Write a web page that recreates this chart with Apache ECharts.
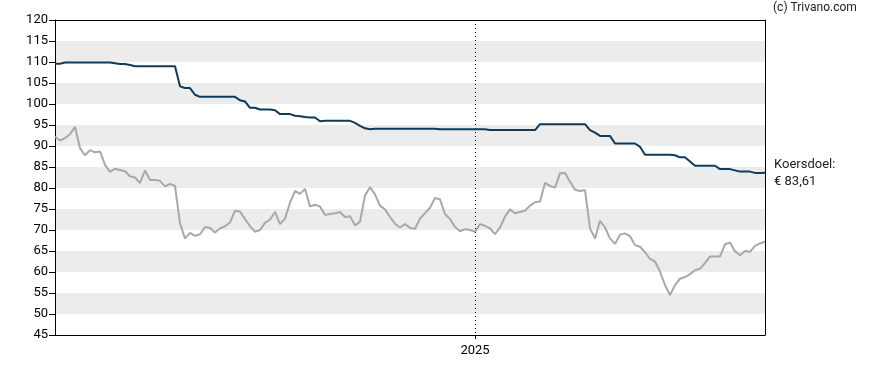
<!DOCTYPE html>
<html>
<head>
<meta charset="utf-8">
<script src="https://cdn.jsdelivr.net/npm/echarts@6/dist/echarts.min.js"></script>
<style>
html,body{margin:0;padding:0;background:#fff;}
#chart{width:888px;height:370px;}
</style>
</head>
<body>
<div id="chart"></div>
<script>
// ---- data ----
const startDate = '2023-11-08';
const stepDays = 5;
const koersdoel = [
109.6,109.6,109.9,109.9,109.9,109.9,109.9,109.9,109.9,109.9,
109.9,109.9,109.7,109.5,109.5,109.3,109.0,109.0,109.0,109.0,
109.0,109.0,109.0,109.0,109.0,104.2,103.8,103.8,102.2,101.7,
101.7,101.7,101.7,101.7,101.7,101.7,101.7,100.9,100.6,99.1,
99.1,98.7,98.7,98.7,98.5,97.6,97.6,97.6,97.2,97.1,
96.9,96.8,96.8,95.9,96.0,96.0,96.0,96.0,96.0,96.0,
95.5,94.8,94.2,94.0,94.1,94.1,94.1,94.1,94.1,94.1,
94.1,94.1,94.1,94.1,94.1,94.1,94.1,94.0,94.0,94.0,
94.0,94.0,94.0,94.0,94.0,94.0,94.0,93.8,93.8,93.8,
93.8,93.8,93.8,93.8,93.8,93.8,93.8,95.2,95.2,95.2,
95.2,95.2,95.2,95.2,95.2,95.2,95.2,93.8,93.2,92.4,
92.4,92.4,90.6,90.6,90.6,90.6,90.6,89.8,87.9,87.9,
87.9,87.9,87.9,87.9,87.8,87.3,87.3,86.3,85.3,85.3,
85.3,85.3,85.3,84.5,84.5,84.5,84.2,83.9,83.9,83.9,
83.6,83.6,83.61
];
const koers = [
92.2,91.3,91.9,92.8,94.6,89.5,87.8,89.0,88.5,88.7,
85.5,83.8,84.6,84.3,84.0,82.8,82.5,81.2,84.2,81.9,
81.9,81.7,80.4,81.0,80.5,71.6,68.0,69.3,68.6,69.0,
70.7,70.5,69.4,70.4,70.9,71.8,74.6,74.4,72.6,70.9,
69.6,70.0,71.7,72.5,74.3,71.4,72.7,76.5,79.3,78.6,
79.8,75.6,76.0,75.6,73.6,73.8,74.0,74.3,73.1,73.3,
71.1,72.0,78.2,80.2,78.5,75.8,74.9,73.1,71.5,70.6,
71.4,70.5,70.3,72.7,74.0,75.3,77.6,77.3,73.8,72.6,
70.7,69.7,70.2,70.0,69.6,71.4,71.0,70.4,69.0,70.6,
73.2,74.9,74.0,74.3,74.6,75.8,76.6,76.8,81.2,80.5,
80.1,83.5,83.6,81.5,79.6,79.3,79.5,70.4,68.0,72.2,
70.6,68.0,66.7,68.9,69.2,68.5,66.4,66.0,64.7,63.1,
62.5,60.1,56.9,54.5,56.9,58.4,58.8,59.5,60.4,60.8,
62.1,63.7,63.7,63.7,66.6,67.0,64.9,64.0,65.0,64.8,
66.2,66.8,67.2
];
const yMin = 45, yMax = 120, yStep = 5;
const yearLabel = '2025';
const targetText = ['Koersdoel:', '€ 83,61'];
const creditText = '(c) Trivano.com';

// ---- categories (dates) ----
const categories = [];
{
  const t0 = Date.parse(startDate + 'T00:00:00Z');
  for (let i = 0; i < koers.length; i++) {
    categories.push(new Date(t0 + i * stepDays * 86400000).toISOString().slice(0, 10));
  }
}
const yearIdx = categories.findIndex(d => d.startsWith(yearLabel));

const FONT = 'Roboto, Arial, sans-serif';
const chart = echarts.init(document.getElementById('chart'), null, {renderer: 'canvas'});
chart.setOption({
  animation: false,
  backgroundColor: '#fff',
  grid: {left: 55, right: 123, top: 20, bottom: 35},
  xAxis: [{
    type: 'category',
    data: categories,
    boundaryGap: false,
    axisLine: {show: true, lineStyle: {color: '#000', width: 1}},
    axisTick: {show: true, length: 4, lineStyle: {color: '#000'}, interval: (i) => i === yearIdx},
    axisLabel: {
      show: true, color: '#000', fontSize: 13, fontFamily: FONT, margin: 9,
      interval: (i) => i === yearIdx,
      formatter: () => yearLabel
    },
    splitLine: {show: true, interval: (i) => i === yearIdx, lineStyle: {color: '#000', type: [1, 3], width: 1}}
  }, {
    type: 'category',
    data: categories,
    boundaryGap: false,
    position: 'top',
    axisLine: {show: true, lineStyle: {color: '#000', width: 1}},
    axisTick: {show: false},
    axisLabel: {show: false},
    splitLine: {show: false}
  }],
  yAxis: [{
    type: 'value',
    min: yMin, max: yMax, interval: yStep,
    axisLine: {show: true, lineStyle: {color: '#000', width: 1}},
    axisTick: {show: true, length: 6, lineStyle: {color: '#000'}},
    axisLabel: {color: '#000', fontSize: 13, fontFamily: FONT, margin: 7},
    splitLine: {show: false},
    splitArea: {show: true, areaStyle: {color: ['#ffffff', '#ececec']}}
  }, {
    type: 'value',
    min: yMin, max: yMax, interval: yStep,
    position: 'right',
    axisLine: {show: true, lineStyle: {color: '#000', width: 1}},
    axisTick: {show: false},
    axisLabel: {show: false},
    splitLine: {show: false}
  }],
  series: [{
    type: 'line',
    data: koers,
    symbol: 'none',
    lineStyle: {color: '#a8a8a8', width: 2},
    z: 3
  }, {
    type: 'line',
    data: koersdoel,
    symbol: 'none',
    lineStyle: {color: '#0e3a5c', width: 2},
    z: 4
  }],
  graphic: [
    {type: 'text', left: 773, top: 2, style: {text: creditText, fill: '#222', font: '12px ' + FONT}},
    {type: 'text', left: 774, top: 158, style: {text: targetText[0], fill: '#222', font: '13px ' + FONT}},
    {type: 'text', left: 774, top: 175, style: {text: targetText[1], fill: '#222', font: '13px ' + FONT}}
  ]
});
</script>
</body>
</html>
